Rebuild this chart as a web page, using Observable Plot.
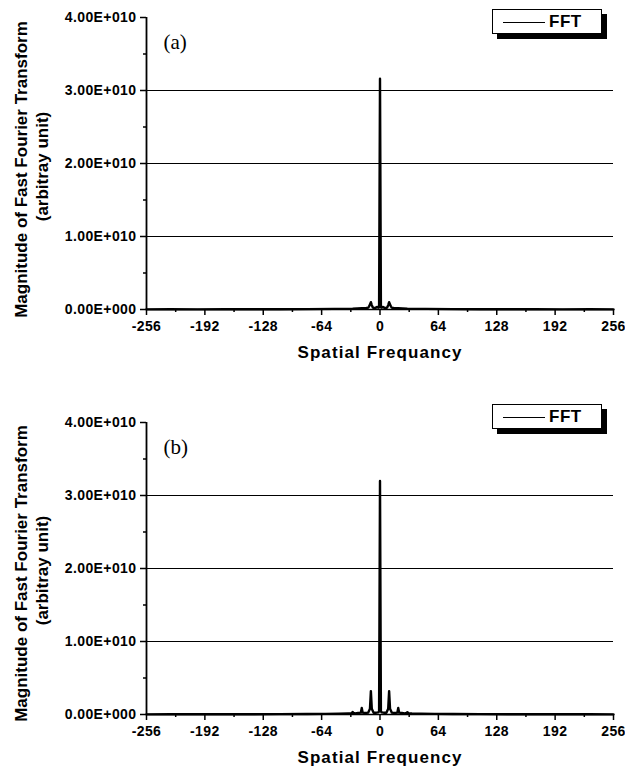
<!DOCTYPE html>
<html><head><meta charset="utf-8">
<script src="https://cdn.jsdelivr.net/npm/d3@7"></script>
<script src="https://cdn.jsdelivr.net/npm/@observablehq/plot@0.6"></script>
<style>
body{margin:0;background:#fff;}
#wrap{position:relative;width:625px;height:767px;overflow:hidden;}
#wrap svg{display:block;}
.legend{position:absolute;border:1.5px solid #000;background:#fff;box-shadow:5px 5px 0 #000;font-family:"Liberation Sans",Arial,sans-serif;font-size:17px;line-height:17px;color:#000;}
.legend .sw{position:absolute;border-top:1.5px solid #000;}
.legend .lb{position:absolute;letter-spacing:0.5px;}
</style></head>
<body><div id="wrap"></div>
<script>
// ---- data ----
const freqA = [-256,-230,-200,-170,-140,-110,-80,-50,-30,-20,-15,-13,-12,-11,-10,-9,-8,-7,-5,-4,-3,-2,-1,0,1,2,3,4,5,7,8,9,10,11,12,13,15,20,30,50,80,110,140,170,200,230,256];
const magA  = [2e7,3e7,2e7,4e7,3e7,4e7,5e7,8e7,1.2e8,1.8e8,2e8,2.5e8,4e8,7e8,1.0e9,6e8,3e8,2e8,2e8,3e8,3.5e8,2.5e8,3e8,3.16e10,3e8,2.5e8,3.5e8,3e8,2e8,2e8,3e8,6e8,1.0e9,7e8,4e8,2.5e8,2e8,1.8e8,1.2e8,8e7,5e7,4e7,3e7,4e7,2e7,3e7,2e7];
const freqB = [-256,-230,-200,-170,-140,-110,-80,-60,-45,-35,-32,-31,-30,-29,-27,-24,-21,-20,-19,-16,-13,-11,-10,-9,-7,-4,-2,-1,0,1,2,4,7,9,10,11,13,16,19,20,21,24,27,29,30,31,32,35,45,60,80,110,140,170,200,230,256];
const magB  = [2e7,3e7,3e7,4e7,3e7,5e7,6e7,8e7,1.2e8,1.5e8,1.6e8,2e8,3.5e8,2e8,1.5e8,2e8,2.5e8,9e8,2.5e8,2e8,2.5e8,8e8,3.2e9,8e8,2.5e8,2.5e8,3e8,4e8,3.2e10,4e8,3e8,2.5e8,2.5e8,8e8,3.2e9,8e8,2.5e8,2e8,2.5e8,9e8,2.5e8,2e8,1.5e8,2e8,3e8,2e8,1.5e8,1.3e8,1.1e8,8e7,6e7,5e7,3e7,4e7,3e7,3e7,2e7];
const yTicks = [0,1e10,2e10,3e10,4e10];
const yTickLabels = ["0.00E+000","1.00E+010","2.00E+010","3.00E+010","4.00E+010"];
const yMinor = [0.5e10,1.5e10,2.5e10,3.5e10];
const gridY = [1e10,2e10,3e10];
const xTicks = [-256,-192,-128,-64,0,64,128,192,256];
const xTickLabels = ["-256","-192","-128","-64","0","64","128","192","256"];
const xMinor = [-224,-160,-96,-32,32,96,160,224];
const yTitle1 = "Magnitude of Fast Fourier Transform";
const yTitle2 = "(arbitray unit)";
const xTitleA = "Spatial Frequancy";
const xTitleB = "Spatial Frequency";
const panelLabels = ["(a)","(b)"];
const seriesName = "FFT";

const font = "Liberation Sans, Arial, sans-serif";

function panel(freq, mag, o) {
  return Plot.plot({
    width: 625, height: o.height,
    marginTop: o.mt, marginBottom: o.mb, marginLeft: 146, marginRight: 12,
    style: {fontFamily: font, fontSize: "14px", fontWeight: "bold", background: "white", color: "black"},
    x: {domain: [-256, 256]},
    y: {domain: [0, 4e10]},
    marks: [
      Plot.ruleY(gridY, {stroke: "#000", strokeWidth: 1}),
      Plot.ruleY([0], {stroke: "#000", strokeWidth: 1.5}),
      Plot.ruleX([-256], {y1: 0, y2: 4e10, stroke: "#000", strokeWidth: 1.8}),
      Plot.axisY(yTicks, {tickSize: 6, tickPadding: 4, tickFormat: d => yTickLabels[yTicks.indexOf(d)], label: null, fontSize: 14, strokeWidth: 1.5}),
      Plot.axisY(yMinor, {tickSize: 3, tickPadding: 0, tickFormat: () => "", label: null, strokeWidth: 1.5}),
      Plot.axisX(xTicks, {tickSize: 6, tickPadding: 6, tickFormat: d => xTickLabels[xTicks.indexOf(d)], label: null, fontSize: 14, strokeWidth: 1.5}),
      Plot.axisX(xMinor, {tickSize: 3, tickPadding: 0, tickFormat: () => "", label: null, strokeWidth: 1.5}),
      Plot.lineY(mag, {x: freq, stroke: "#000", strokeWidth: 2.4, curve: "linear"}),
      Plot.text([o.xTitle], {frameAnchor: "bottom", dy: 43, fontSize: 17, fill: "#000", textAnchor: "middle", lineAnchor: "middle"}),
      Plot.text([yTitle1], {frameAnchor: "left", dx: -125, dy: o.tdy, rotate: -90, fontSize: 17, fill: "#000", textAnchor: "middle", lineAnchor: "middle"}),
      Plot.text([yTitle2], {frameAnchor: "left", dx: -104, dy: o.tdy - 3, rotate: -90, fontSize: 17, fill: "#000", textAnchor: "middle", lineAnchor: "middle"}),
      Plot.text([o.label], {frameAnchor: "top-left", dx: 17, dy: o.ldy, fontSize: 21, fontWeight: "normal", fontFamily: "Liberation Serif, Times New Roman, serif", fill: "#000", textAnchor: "start", lineAnchor: "middle"})
    ]
  });
}

const wrap = document.getElementById("wrap");
const a = panel(freqA, magA, {height: 370, mt: 17, mb: 61, xTitle: xTitleA, tdy: 6, label: panelLabels[0], ldy: 25});
const b = panel(freqB, magB, {height: 397, mt: 52, mb: 53, xTitle: xTitleB, tdy: 5, label: panelLabels[1], ldy: 25});
wrap.appendChild(a);
wrap.appendChild(b);

// letter spacing for axis titles and tick labels
for (const svg of [a, b]) {
  d3.select(svg).selectAll("text").each(function() {
    const t = this.textContent;
    if (t === xTitleA || t === xTitleB) this.style.letterSpacing = "1.1px";
    else if (yTickLabels.includes(t) || xTickLabels.includes(t)) this.style.letterSpacing = "0.4px";
  });
}

function legend(top) {
  const d = document.createElement("div");
  d.className = "legend";
  d.style.left = "492px"; d.style.top = top + "px";
  d.style.width = "108px"; d.style.height = "23px";
  const s = document.createElement("span"); s.className = "sw";
  s.style.left = "9.5px"; s.style.top = "11.5px"; s.style.width = "42px";
  const t = document.createElement("span"); t.className = "lb";
  t.style.left = "56px"; t.style.top = "3px"; t.style.fontWeight = "bold"; t.textContent = seriesName;
  d.appendChild(s); d.appendChild(t);
  wrap.appendChild(d);
}
legend(9);
legend(404);
</script>
</body></html>
